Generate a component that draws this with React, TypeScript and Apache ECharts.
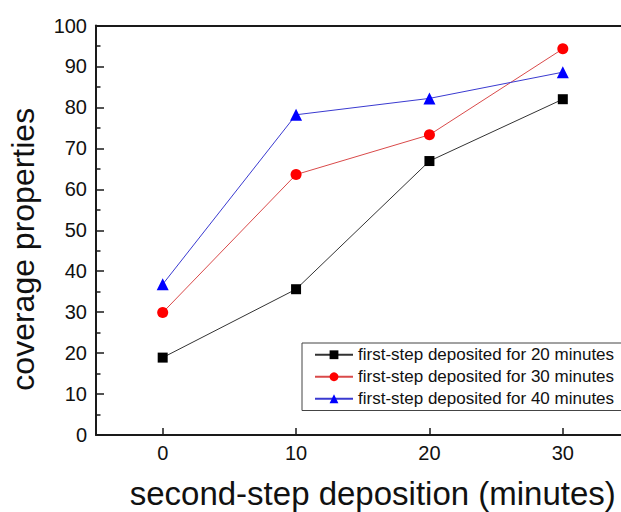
import React, { useEffect, useRef } from "react";
import * as echarts from "echarts";

// second-step deposition time (minutes)
const depositionMinutes = [0, 10, 20, 30];
const xTickValues = [0, 10, 20, 30];

// coverage properties for each first-step deposition time
const coverage20 = [18.9, 35.6, 66.9, 82.0];
const coverage30 = [29.9, 63.6, 73.3, 94.3];
const coverage40 = [36.8, 78.2, 82.2, 88.6];

const seriesNames = [
  "first-step deposited for 20 minutes",
  "first-step deposited for 30 minutes",
  "first-step deposited for 40 minutes",
];

const FONT = '"Liberation Sans", Arial, sans-serif';
const AXIS_COLOR = "#1a1a1a";

function pairs(values: number[]) {
  return depositionMinutes.map((x, i) => [x, values[i]]);
}

export default function App() {
  const ref = useRef<HTMLDivElement>(null);

  useEffect(() => {
    if (!ref.current) return;
    const chart = echarts.init(ref.current, undefined, { renderer: "svg" });

    const makeSeries = (
      name: string,
      values: number[],
      symbol: string,
      symbolSize: number,
      markerColor: string,
      lineColor: string
    ) => ({
      name,
      type: "line",
      xAxisIndex: 0,
      data: pairs(values),
      symbol,
      symbolSize,
      showSymbol: true,
      itemStyle: { color: markerColor },
      lineStyle: { color: lineColor, width: 1 },
      z: 3,
    });

    chart.setOption({
      animation: false,
      backgroundColor: "#ffffff",
      textStyle: { fontFamily: FONT },
      grid: {
        left: 96,
        top: 25.5,
        bottom: 77,
        right: -8.5,
        outerBoundsMode: "none",
        containLabel: false,
        show: false,
      },
      legend: {
        orient: "vertical",
        left: 302,
        top: 343,
        itemWidth: 38,
        itemHeight: 11,
        itemGap: 4.5,
        padding: [3, 10, 3, 12],
        borderColor: "#444",
        borderWidth: 1,
        borderRadius: 0,
        backgroundColor: "#ffffff",
        textStyle: {
          fontFamily: FONT,
          fontSize: 17,
          color: "#111",
          lineHeight: 17.5,
        },
        data: seriesNames,
      },
      xAxis: [
        {
          type: "value",
          position: "bottom",
          min: -5,
          max: 35,
          name: "second-step deposition (minutes)",
          nameLocation: "middle",
          nameGap: 42,
          nameTextStyle: {
            fontFamily: FONT,
            fontSize: 33,
            color: "#111",
            padding: [0, 0, 0, 20],
          },
          axisLine: { show: true, onZero: false, lineStyle: { color: AXIS_COLOR, width: 2 } },
          axisTick: {
            show: true,
            inside: true,
            length: 7,
            customValues: xTickValues,
            lineStyle: { color: AXIS_COLOR, width: 1.5 },
          },
          axisLabel: {
            customValues: xTickValues,
            margin: 8,
            fontFamily: FONT,
            fontSize: 20,
            color: "#111",
          },
          splitLine: { show: false },
        },
        {
          // plain frame line along the top of the plot
          type: "value",
          position: "top",
          min: -5,
          max: 35,
          axisLine: { show: true, onZero: false, lineStyle: { color: AXIS_COLOR, width: 2 } },
          axisTick: { show: false },
          axisLabel: { show: false },
          splitLine: { show: false },
        },
      ],
      yAxis: {
        type: "value",
        min: 0,
        max: 100,
        interval: 10,
        name: "coverage properties",
        nameLocation: "middle",
        nameGap: 57,
        nameRotate: 90,
        nameTextStyle: {
          fontFamily: FONT,
          fontSize: 32,
          color: "#111",
          padding: [0, 38, 0, 0],
        },
        axisLine: { show: true, onZero: false, lineStyle: { color: AXIS_COLOR, width: 2 } },
        axisTick: {
          show: true,
          inside: true,
          length: 8,
          lineStyle: { color: AXIS_COLOR, width: 1.5 },
        },
        minorTick: {
          show: true,
          splitNumber: 2,
          length: 4.5,
          lineStyle: { color: AXIS_COLOR, width: 1.5 },
        },
        axisLabel: {
          margin: 9,
          fontFamily: FONT,
          fontSize: 20,
          color: "#111",
        },
        splitLine: { show: false },
        minorSplitLine: { show: false },
      },
      series: [
        makeSeries(seriesNames[0], coverage20, "rect", 10, "#000000", "#333333"),
        makeSeries(seriesNames[1], coverage30, "circle", 11, "#ff0000", "#d94a4a"),
        makeSeries(seriesNames[2], coverage40, "triangle", 12, "#0000ff", "#3a3ad0"),
      ],
    });

    return () => {
      chart.dispose();
    };
  }, []);

  return (
    <div
      ref={ref}
      style={{
        position: "fixed",
        left: 0,
        top: 0,
        width: 621,
        height: 512,
        background: "#ffffff",
      }}
    />
  );
}
